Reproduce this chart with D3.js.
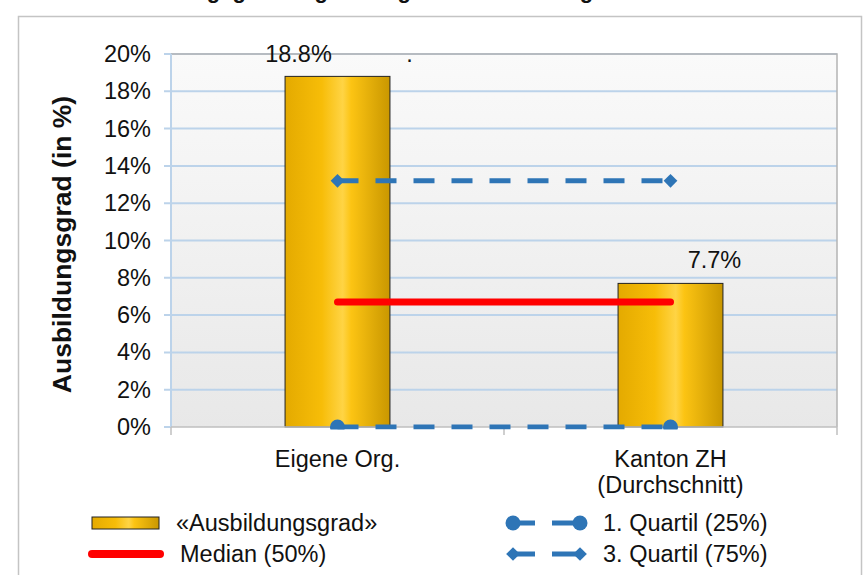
<!DOCTYPE html>
<html>
<head>
<meta charset="utf-8">
<script src="https://cdn.jsdelivr.net/npm/d3@7"></script>
<style>
  body { margin: 0; background: #fff; }
  svg { display: block; font-family: "Liberation Sans", Arial, sans-serif; }
</style>
</head>
<body>
<svg id="chart"></svg>
<script>
// data
const categories = ['Eigene Org.', 'Kanton ZH (Durchschnitt)'];
const categoryLines = [['Eigene Org.'], ['Kanton ZH', '(Durchschnitt)']];
const ausbildungsgrad = [0.188, 0.077];
const median = [0.067, 0.067];
const quartil1 = [0.0, 0.0];
const quartil3 = [0.132, 0.132];
const yTicks = [0, 0.02, 0.04, 0.06, 0.08, 0.10, 0.12, 0.14, 0.16, 0.18, 0.20];
const legendLabels = ['«Ausbildungsgrad»', 'Median (50%)', '1. Quartil (25%)', '3. Quartil (75%)'];

const width = 867, height = 575;
const margin = { top: 54, right: 30, bottom: 148, left: 171 };
const blue = '#2e75b6';
const fs = 23.5;

const svg = d3.select('#chart')
  .attr('width', width)
  .attr('height', height);

const defs = svg.append('defs');

// bar gradient (horizontal, excel-like)
const barGrad = defs.append('linearGradient').attr('id', 'barGrad')
  .attr('x1', '0%').attr('x2', '100%').attr('y1', '0%').attr('y2', '0%');
[['0%', '#e4aa00'], ['35%', '#f7bd08'], ['55%', '#ffd445'], ['63%', '#fcc413'], ['100%', '#c99700']]
  .forEach(([o, c]) => barGrad.append('stop').attr('offset', o).attr('stop-color', c));

// plot background gradient (vertical)
const bgGrad = defs.append('linearGradient').attr('id', 'bgGrad')
  .attr('x1', '0%').attr('x2', '0%').attr('y1', '0%').attr('y2', '100%');
bgGrad.append('stop').attr('offset', '0%').attr('stop-color', '#fafafa');
bgGrad.append('stop').attr('offset', '100%').attr('stop-color', '#e8e8e8');

// scales
const x = d3.scaleBand()
  .domain(categories)
  .range([margin.left, width - margin.right]);
const y = d3.scaleLinear()
  .domain([0, 0.2])
  .range([height - margin.bottom, margin.top]);
const barW = x.bandwidth() * 0.315;
const cx = c => x(c) + x.bandwidth() / 2;

defs.append('clipPath').attr('id', 'plotClip')
  .append('rect')
  .attr('x', margin.left - 20).attr('y', margin.top - 20)
  .attr('width', x.range()[1] - margin.left + 40)
  .attr('height', y(0) - margin.top + 22.5);

// clipped title (only the descenders show at the top edge)
svg.append('text')
  .attr('x', 455).attr('y', -2)
  .attr('text-anchor', 'middle')
  .attr('font-size', 22).attr('font-weight', 'bold')
  .attr('fill', '#111')
  .text('Ausbildungsgrad: Eigene Organisation im Vergleich zum Kanton ZH');

// outer frame
svg.append('rect')
  .attr('x', 18.5).attr('y', 16.5)
  .attr('width', 843).attr('height', 600)
  .attr('fill', '#fff')
  .attr('stroke', '#c4c4c4').attr('stroke-width', 1.5);

// plot area
svg.append('rect')
  .attr('x', margin.left).attr('y', margin.top)
  .attr('width', x.range()[1] - margin.left)
  .attr('height', y(0) - margin.top)
  .attr('fill', 'url(#bgGrad)');

// gridlines
svg.append('g')
  .selectAll('line')
  .data(yTicks.filter(d => d > 0))
  .join('line')
  .attr('x1', margin.left - 7).attr('x2', x.range()[1])
  .attr('y1', d => y(d)).attr('y2', d => y(d))
  .attr('stroke', '#bcd3ea').attr('stroke-width', 2);
svg.append('line')
  .attr('x1', margin.left - 7).attr('x2', margin.left)
  .attr('y1', y(0)).attr('y2', y(0))
  .attr('stroke', '#bcd3ea').attr('stroke-width', 2);

// plot border top / right
svg.append('path')
  .attr('d', `M${margin.left},${margin.top}H${x.range()[1]}V${y(0)}`)
  .attr('fill', 'none').attr('stroke', '#b4b4b4').attr('stroke-width', 1.5);

// y axis line
svg.append('line')
  .attr('x1', margin.left).attr('x2', margin.left)
  .attr('y1', margin.top).attr('y2', y(0))
  .attr('stroke', '#bcd3ea').attr('stroke-width', 2);

// y tick labels
svg.append('g')
  .selectAll('text')
  .data(yTicks)
  .join('text')
  .attr('x', margin.left - 20)
  .attr('y', d => y(d) + 8)
  .attr('text-anchor', 'end')
  .attr('font-size', fs)
  .attr('fill', '#111')
  .text(d => d3.format('.0%')(d));

// y axis title
svg.append('text')
  .attr('transform', `translate(71,${(margin.top + y(0)) / 2 + 4}) rotate(-90)`)
  .attr('text-anchor', 'middle')
  .attr('font-size', 26.5).attr('font-weight', 'bold')
  .attr('fill', '#111')
  .text('Ausbildungsgrad (in %)');

// bars
svg.append('g')
  .selectAll('rect')
  .data(ausbildungsgrad)
  .join('rect')
  .attr('x', (d, i) => cx(categories[i]) - barW / 2)
  .attr('y', d => y(d))
  .attr('width', barW)
  .attr('height', d => y(0) - y(d))
  .attr('fill', 'url(#barGrad)')
  .attr('stroke', '#222').attr('stroke-width', 1);

// x axis
const xAxisY = y(0);
svg.append('line')
  .attr('x1', margin.left).attr('x2', x.range()[1])
  .attr('y1', xAxisY).attr('y2', xAxisY)
  .attr('stroke', '#bfbfbf').attr('stroke-width', 1.5);
svg.append('g')
  .selectAll('line')
  .data([...categories.map(c => x(c)), x.range()[1]])
  .join('line')
  .attr('x1', d => d).attr('x2', d => d)
  .attr('y1', xAxisY).attr('y2', xAxisY + 8)
  .attr('stroke', '#bfbfbf').attr('stroke-width', 1.5);

// category labels
categoryLines.forEach((lines, i) => {
  const t = svg.append('text')
    .attr('x', cx(categories[i]))
    .attr('y', xAxisY + 40)
    .attr('text-anchor', 'middle')
    .attr('font-size', fs)
    .attr('fill', '#111');
  lines.forEach((l, j) => t.append('tspan')
    .attr('x', cx(categories[i]))
    .attr('dy', j === 0 ? 0 : 26)
    .text(l));
});

// lines
const lineGen = d3.line().x((d, i) => cx(categories[i])).y(d => y(d));
const lines = svg.append('g').attr('clip-path', 'url(#plotClip)');

lines.append('path')
  .attr('d', lineGen(median))
  .attr('fill', 'none').attr('stroke', '#ff0000')
  .attr('stroke-width', 7).attr('stroke-linecap', 'round');

lines.append('path')
  .attr('d', lineGen(quartil3))
  .attr('fill', 'none').attr('stroke', blue)
  .attr('stroke-width', 5).attr('stroke-dasharray', '21,17');
lines.selectAll('.q3')
  .data(quartil3)
  .join('path')
  .attr('transform', (d, i) => `translate(${cx(categories[i])},${y(d)})`)
  .attr('d', d3.symbol(d3.symbolDiamond2, 120))
  .attr('fill', blue);

lines.append('path')
  .attr('d', lineGen(quartil1))
  .attr('fill', 'none').attr('stroke', blue)
  .attr('stroke-width', 5).attr('stroke-dasharray', '21,17');
lines.selectAll('.q1')
  .data(quartil1)
  .join('circle')
  .attr('cx', (d, i) => cx(categories[i]))
  .attr('cy', d => y(d))
  .attr('r', 7.5)
  .attr('fill', blue);

// data labels
svg.append('text')
  .attr('x', cx(categories[0]) - 39)
  .attr('y', y(ausbildungsgrad[0]) - 14)
  .attr('text-anchor', 'middle')
  .attr('font-size', fs).attr('fill', '#111')
  .text(d3.format('.1%')(ausbildungsgrad[0]));
svg.append('text')
  .attr('x', cx(categories[0]) + 72)
  .attr('y', y(ausbildungsgrad[0]) - 14)
  .attr('text-anchor', 'middle')
  .attr('font-size', fs).attr('fill', '#111')
  .text('.');
svg.append('text')
  .attr('x', cx(categories[1]) + 44)
  .attr('y', y(ausbildungsgrad[1]) - 15)
  .attr('text-anchor', 'middle')
  .attr('font-size', fs).attr('fill', '#111')
  .text(d3.format('.1%')(ausbildungsgrad[1]));

// legend
const lg = svg.append('g').attr('font-size', fs).attr('fill', '#111');
lg.append('rect')
  .attr('x', 92).attr('y', 517).attr('width', 67).attr('height', 12)
  .attr('fill', 'url(#barGrad)').attr('stroke', '#222').attr('stroke-width', 1);
lg.append('text').attr('x', 176).attr('y', 531).text(legendLabels[0]);

lg.append('line')
  .attr('x1', 92).attr('x2', 160).attr('y1', 554).attr('y2', 554)
  .attr('stroke', '#ff0000').attr('stroke-width', 8).attr('stroke-linecap', 'round');
lg.append('text').attr('x', 180).attr('y', 562).text(legendLabels[1]);

[[523, 'circle', legendLabels[2]], [554, 'diamond', legendLabels[3]]].forEach(([ly, shape, label]) => {
  lg.append('line')
    .attr('x1', 513).attr('x2', 580).attr('y1', ly).attr('y2', ly)
    .attr('stroke', blue).attr('stroke-width', 5)
    .attr('stroke-dasharray', '22,17,28');
  [513, 580].forEach(px => {
    if (shape === 'circle') {
      lg.append('circle').attr('cx', px).attr('cy', ly).attr('r', 7.5).attr('fill', blue);
    } else {
      lg.append('path')
        .attr('transform', `translate(${px},${ly})`)
        .attr('d', d3.symbol(d3.symbolDiamond2, 120))
        .attr('fill', blue);
    }
  });
  lg.append('text').attr('x', 603).attr('y', ly + 8).text(label);
});
</script>
</body>
</html>
